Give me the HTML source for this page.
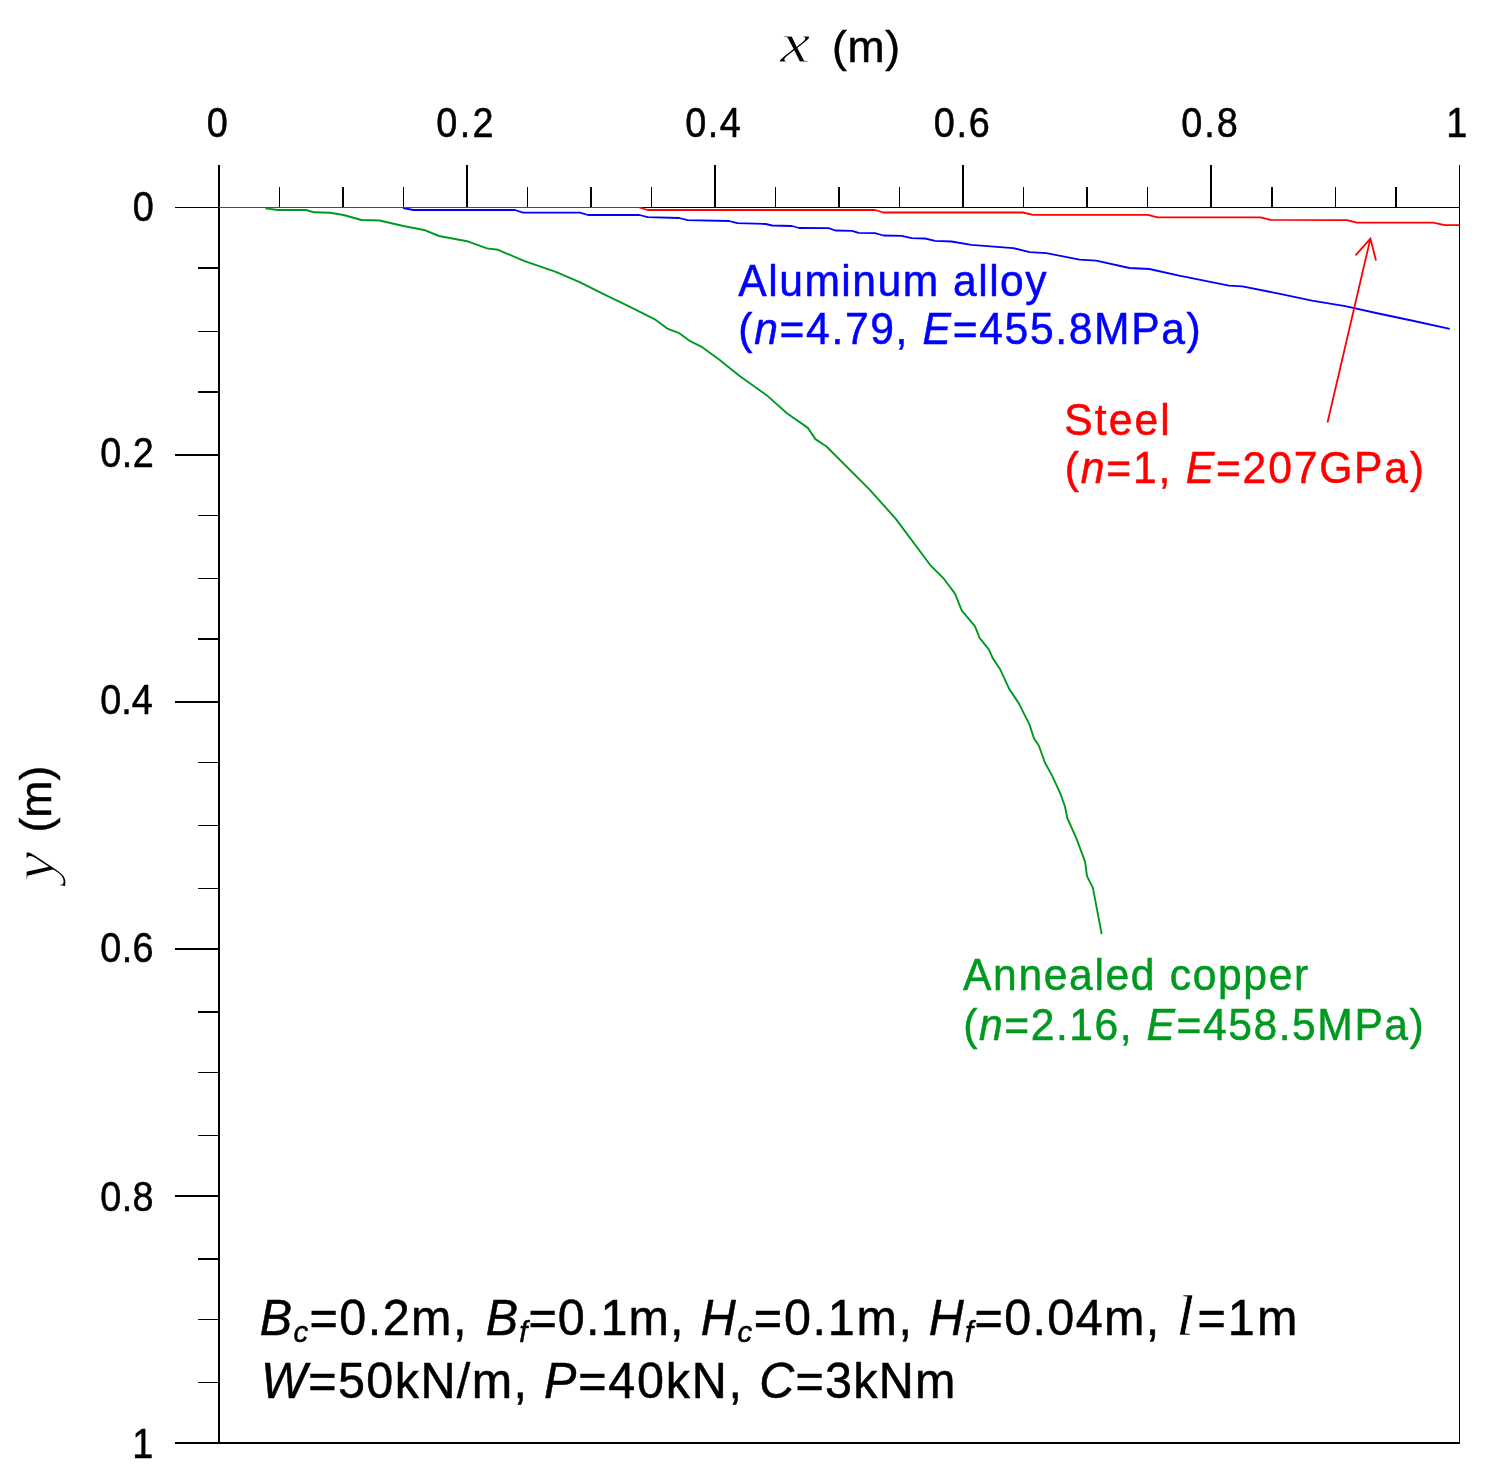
<!DOCTYPE html>
<html lang="en">
<head>
<meta charset="utf-8">
<title>Beam deflection curves</title>
<style>
html,body{margin:0;padding:0;background:#fff;}
body{width:1506px;height:1477px;overflow:hidden;}
svg{display:block;}
text{font-family:"Liberation Sans",Arial,sans-serif;white-space:pre;}
.it{font-style:italic;}
.ms{font-family:"Liberation Serif","DejaVu Serif",serif;font-style:italic;}
</style>
</head>
<body>
<svg width="1506" height="1477" viewBox="0 0 1506 1477">
<rect x="0" y="0" width="1506" height="1477" fill="#ffffff"/>
<g id="shapes">
<rect x="218" y="165" width="2" height="1279" fill="#000"/>
<rect x="175" y="207" width="1285" height="1" fill="#000"/>
<rect x="1459" y="165" width="1" height="1279" fill="#000"/>
<rect x="175" y="1442" width="1285" height="2" fill="#000"/>
<rect x="279" y="187" width="1" height="20" fill="#000"/>
<rect x="342" y="187" width="2" height="20" fill="#000"/>
<rect x="403" y="187" width="1" height="20" fill="#000"/>
<rect x="466" y="165" width="2" height="42" fill="#000"/>
<rect x="527" y="187" width="1" height="20" fill="#000"/>
<rect x="590" y="187" width="2" height="20" fill="#000"/>
<rect x="651" y="187" width="1" height="20" fill="#000"/>
<rect x="714" y="165" width="2" height="42" fill="#000"/>
<rect x="775" y="187" width="1" height="20" fill="#000"/>
<rect x="838" y="187" width="2" height="20" fill="#000"/>
<rect x="899" y="187" width="1" height="20" fill="#000"/>
<rect x="962" y="165" width="2" height="42" fill="#000"/>
<rect x="1023" y="187" width="1" height="20" fill="#000"/>
<rect x="1086" y="187" width="2" height="20" fill="#000"/>
<rect x="1147" y="187" width="1" height="20" fill="#000"/>
<rect x="1210" y="165" width="2" height="42" fill="#000"/>
<rect x="1271" y="187" width="2" height="20" fill="#000"/>
<rect x="1335" y="187" width="1" height="20" fill="#000"/>
<rect x="1395" y="187" width="2" height="20" fill="#000"/>
<rect x="198" y="267" width="20" height="2" fill="#000"/>
<rect x="198" y="331" width="20" height="1" fill="#000"/>
<rect x="198" y="391" width="20" height="2" fill="#000"/>
<rect x="175" y="454" width="43" height="2" fill="#000"/>
<rect x="198" y="515" width="20" height="1" fill="#000"/>
<rect x="198" y="578" width="20" height="1" fill="#000"/>
<rect x="198" y="638" width="20" height="2" fill="#000"/>
<rect x="175" y="701" width="43" height="2" fill="#000"/>
<rect x="198" y="762" width="20" height="1" fill="#000"/>
<rect x="198" y="825" width="20" height="1" fill="#000"/>
<rect x="198" y="888" width="20" height="1" fill="#000"/>
<rect x="175" y="948" width="43" height="2" fill="#000"/>
<rect x="198" y="1011" width="20" height="2" fill="#000"/>
<rect x="198" y="1072" width="20" height="1" fill="#000"/>
<rect x="198" y="1135" width="20" height="1" fill="#000"/>
<rect x="175" y="1195" width="43" height="2" fill="#000"/>
<rect x="198" y="1258" width="20" height="2" fill="#000"/>
<rect x="198" y="1319" width="20" height="1" fill="#000"/>
<rect x="198" y="1382" width="20" height="1" fill="#000"/>
<polyline points="265.5,208.4 278.0,210.0 306.0,210.0 314.0,212.3 330.0,212.7 343.6,215.0 361.5,220.0 379.5,220.5 403.4,226.0 425.3,230.3 439.0,236.0 467.0,241.2 487.0,248.4 498.0,249.8 523.9,260.9 555.8,271.9 579.7,282.2 603.6,294.2 627.5,305.7 655.4,319.7 667.3,328.6 679.3,333.2 689.2,340.6 701.2,346.6 719.1,359.5 739.0,375.5 766.9,395.4 786.9,413.3 807.9,427.9 815.4,439.1 826.5,446.5 869.4,489.4 895.4,518.4 930.8,565.7 943.8,578.7 955.0,593.6 961.8,610.7 974.9,626.1 979.6,637.9 989.1,649.8 992.7,658.1 999.8,668.7 1009.2,688.9 1018.7,703.1 1029.4,724.4 1034.1,738.6 1038.9,745.7 1044.8,762.3 1051.9,775.4 1060.2,793.1 1064.9,806.2 1067.3,818.0 1076.8,839.3 1085.1,861.8 1087.0,876.1 1092.9,887.9 1101.7,934.1" fill="none" stroke="#009920" stroke-width="1.9" stroke-linejoin="round" />
<polyline points="403.0,208.0 413.3,210.0 515.0,210.0 523.0,212.6 580.0,212.6 588.0,215.0 639.4,215.0 647.7,217.2 679.0,218.0 687.6,220.2 729.0,221.0 737.4,223.2 765.6,224.0 772.0,225.5 792.0,226.0 799.0,228.0 828.7,228.2 835.3,230.5 852.0,230.8 858.6,232.8 875.0,233.2 883.5,235.5 901.7,235.8 911.7,238.1 925.0,238.5 935.0,240.8 951.5,241.5 971.4,244.8 1013.2,248.1 1029.8,252.1 1046.4,253.1 1079.6,259.7 1096.2,260.7 1129.4,268.0 1149.3,269.0 1179.2,275.7 1229.0,285.6 1242.3,286.3 1278.8,293.6 1312.0,300.6 1345.2,306.2 1378.4,313.5 1411.6,320.5 1449.8,328.8" fill="none" stroke="#0000ff" stroke-width="1.8" stroke-linejoin="round" />
<rect x="219" y="207" width="424" height="1" fill="#ff0000"/>
<polyline points="639.4,207.5 647.7,210.0 875.0,210.0 883.5,212.5 1023.0,212.5 1033.0,214.9 1147.7,214.9 1157.6,217.3 1260.5,217.3 1270.5,219.9 1346.9,220.1 1356.8,222.7 1433.2,222.7 1444.8,225.2 1459.5,225.2" fill="none" stroke="#ff0000" stroke-width="1.8" stroke-linejoin="round" />
<path d="M1327.5,422.5 L1370.4,238.6 M1355.5,255.3 L1370.4,238.6 L1376,260.5" fill="none" stroke="#ff0000" stroke-width="1.8"/>
</g>
<g id="texts">
<text id="t0" transform="translate(206.67,136.6) scale(0.97,1.07)" font-size="39" fill="#000" stroke="#000" stroke-width="0.5">0</text>
<text id="t1" transform="translate(436.33,136.6) scale(0.97,1.07)" font-size="39" fill="#000" stroke="#000" stroke-width="0.5" letter-spacing="2.405">0.2</text>
<text id="t2" transform="translate(685.33,136.6) scale(0.97,1.07)" font-size="39" fill="#000" stroke="#000" stroke-width="0.5" letter-spacing="1.546">0.4</text>
<text id="t3" transform="translate(933.67,136.6) scale(0.97,1.07)" font-size="39" fill="#000" stroke="#000" stroke-width="0.5" letter-spacing="1.890">0.6</text>
<text id="t4" transform="translate(1181.33,136.6) scale(0.97,1.07)" font-size="39" fill="#000" stroke="#000" stroke-width="0.5" letter-spacing="2.062">0.8</text>
<text id="t5" transform="translate(1446.33,136.6) scale(0.97,1.07)" font-size="39" fill="#000" stroke="#000" stroke-width="0.5">1</text>
<text id="l0" transform="translate(132.67,220.5) scale(0.97,1.07)" font-size="39" fill="#000" stroke="#000" stroke-width="0.5">0</text>
<text id="l1" transform="translate(100.33,466.9) scale(0.97,1.07)" font-size="39" fill="#000" stroke="#000" stroke-width="0.5" letter-spacing="0.515">0.2</text>
<text id="l2" transform="translate(100.33,713.8) scale(0.97,1.07)" font-size="39" fill="#000" stroke="#000" stroke-width="0.5">0.4</text>
<text id="l3" transform="translate(100.33,961.7) scale(0.97,1.07)" font-size="39" fill="#000" stroke="#000" stroke-width="0.5" letter-spacing="0.344">0.6</text>
<text id="l4" transform="translate(100.33,1210.7) scale(0.97,1.07)" font-size="39" fill="#000" stroke="#000" stroke-width="0.5" letter-spacing="0.344">0.8</text>
<text id="l5" transform="translate(132.33,1458.0) scale(0.97,1.07)" font-size="39" fill="#000" stroke="#000" stroke-width="0.5">1</text>
<text id="al1" transform="translate(738.33,295.7) scale(0.98,1.005)" font-size="43.5" fill="#0000ff" stroke="#0000ff" stroke-width="0.5" letter-spacing="1.518">Aluminum alloy</text>
<text id="al2" transform="translate(738.33,343.8) scale(0.98,1.005)" font-size="43.5" fill="#0000ff" stroke="#0000ff" stroke-width="0.5" letter-spacing="1.683">(<tspan class="it">n</tspan>=4.79, <tspan class="it">E</tspan>=455.8MPa)</text>
<text id="st1" transform="translate(1064.33,434.7) scale(0.98,1.005)" font-size="43.5" fill="#ff0000" stroke="#ff0000" stroke-width="0.5" letter-spacing="2.126">Steel</text>
<text id="st2" transform="translate(1064.67,482.8) scale(0.98,1.005)" font-size="43.5" fill="#ff0000" stroke="#ff0000" stroke-width="0.5" letter-spacing="1.846">(<tspan class="it">n</tspan>=1, <tspan class="it">E</tspan>=207GPa)</text>
<text id="cu1" transform="translate(963.00,989.8) scale(0.98,1.005)" font-size="43.5" fill="#009920" stroke="#009920" stroke-width="0.5" letter-spacing="1.676">Annealed copper</text>
<text id="cu2" transform="translate(963.33,1039.5) scale(0.98,1.005)" font-size="43.5" fill="#009920" stroke="#009920" stroke-width="0.5" letter-spacing="1.575">(<tspan class="it">n</tspan>=2.16, <tspan class="it">E</tspan>=458.5MPa)</text>
<text id="b1a" transform="translate(259.67,1334.8) scale(0.98,1.005)" font-size="49.5" fill="#000" stroke="#000" stroke-width="0.5" letter-spacing="1.458"><tspan class="it">B</tspan><tspan class="it" font-size="30" dy="7">c</tspan><tspan dy="-7">=</tspan>0.2m,</text>
<text id="b1b" transform="translate(485.67,1334.8) scale(0.98,1.005)" font-size="49.5" fill="#000" stroke="#000" stroke-width="0.5" letter-spacing="1.118"><tspan class="it">B</tspan><tspan class="it" font-size="30" dy="7">f</tspan><tspan dy="-7">=</tspan>0.1m,</text>
<text id="b1c" transform="translate(700.67,1334.8) scale(0.98,1.005)" font-size="49.5" fill="#000" stroke="#000" stroke-width="0.5" letter-spacing="1.749"><tspan class="it">H</tspan><tspan class="it" font-size="30" dy="7">c</tspan><tspan dy="-7">=</tspan>0.1m,</text>
<text id="b1d" transform="translate(928.67,1334.8) scale(0.98,1.005)" font-size="49.5" fill="#000" stroke="#000" stroke-width="0.5" letter-spacing="1.361"><tspan class="it">H</tspan><tspan class="it" font-size="30" dy="7">f</tspan><tspan dy="-7">=</tspan>0.04m,</text>
<text id="b1e" transform="translate(1176.00,1334.6) scale(1.15,1.0)" font-size="57" fill="#000" stroke="#fff" stroke-width="0.5" letter-spacing="0.748"><tspan class="ms">l</tspan></text>
<text id="b1f" transform="translate(1197.47,1334.8) scale(0.98,1.005)" font-size="49.5" fill="#000" stroke="#000" stroke-width="0.5" letter-spacing="2.109">=1m</text>
<text id="b2a" transform="translate(261.00,1397.5) scale(0.98,1.005)" font-size="49.5" fill="#000" stroke="#000" stroke-width="0.5" letter-spacing="1.446"><tspan class="it">W</tspan>=50kN/m,</text>
<text id="b2b" transform="translate(544.00,1397.5) scale(0.98,1.005)" font-size="49.5" fill="#000" stroke="#000" stroke-width="0.5" letter-spacing="1.814"><tspan class="it">P</tspan>=40kN,</text>
<text id="b2c" transform="translate(759.33,1397.5) scale(0.98,1.005)" font-size="49.5" fill="#000" stroke="#000" stroke-width="0.5" letter-spacing="1.224"><tspan class="it">C</tspan>=3kNm</text>
<text id="xt" transform="translate(780.33,62.0) scale(1.18,1.0)" font-size="57" fill="#000" stroke="#fff" stroke-width="0.9"><tspan class="ms">x</tspan></text>
<text id="xm" transform="translate(832.00,61.6) scale(1.0,1.0)" font-size="44.5" fill="#000" stroke="#000" stroke-width="0.5" letter-spacing="0.667">(m)</text>
<text id="yt" transform="translate(53,881.2) rotate(-90) scale(1.17,1.03)" font-size="57" fill="#000" stroke="#fff" stroke-width="1.1"><tspan class="ms">y</tspan></text>
<text id="ym" transform="translate(51.3,832.5) rotate(-90)" font-size="44.5" fill="#000" stroke="#000" stroke-width="0.5">(m)</text>
</g>
</svg>
</body>
</html>
